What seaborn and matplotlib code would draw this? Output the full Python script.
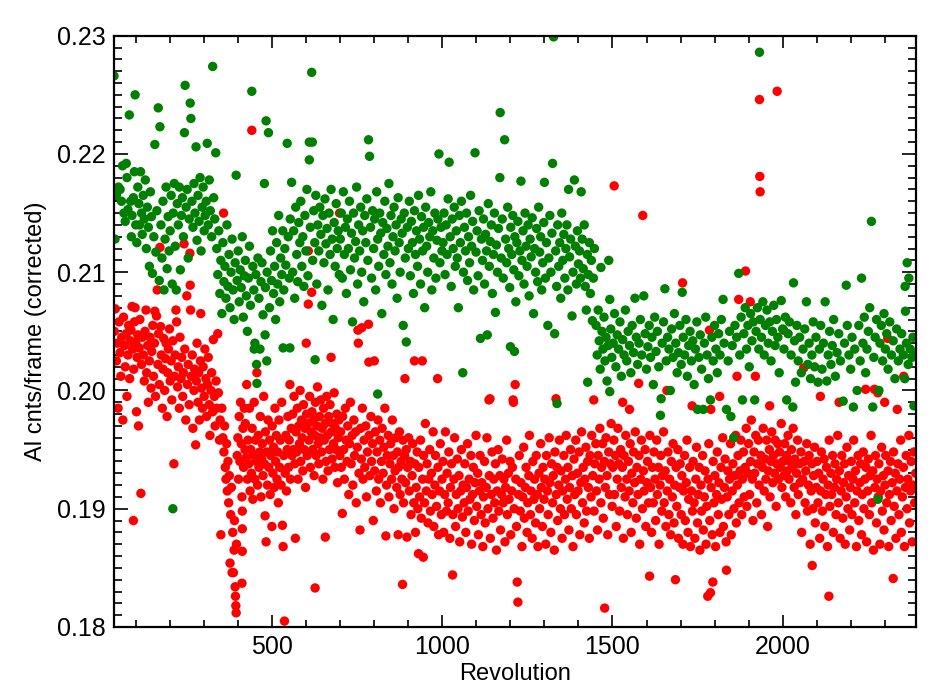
import pandas as pd
import numpy as np
import matplotlib
matplotlib.use('Agg')
import matplotlib.pyplot as plt
import seaborn as sns
from matplotlib.ticker import MultipleLocator, FormatStrFormatter

# RED BAND (revolution / rate)
red_points = [
    (36,.2050),(39,.2069),(42,.2025),(45,.2040),(47,.1985),(50,.2058),(53,.2032),(55,.2012),(58,.2045),(61,.1975),
    (63,.2062),(66,.2038),(68,.2020),(71,.2048),(73,.1995),(76,.2030),(78,.2055),(81,.2010),(83,.2042),(85,.2051),
    (88,.2071),(90,.2035),(92,.1890),(93,.2018),(95,.2058),(97,.2070),(99,.2041),(101,.1982),(103,.2028),(105,.2047),
    (107,.1970),(109,.2036),(111,.2060),(114,.1913),(116,.2022),(118,.2045),
    (121,.2030),(124,.2008),(126,.2050),(129,.2068),(131,.2015),(134,.2038),(136,.1990),(139,.2025),(141,.2045),(144,.2002),
    (146,.2033),(149,.2055),(151,.2012),(154,.2040),(155,.2067),(157,.1995),(160,.2063),(162,.2085),(164,.2022),(166,.2048),
    (168,.2005),(170,.2121),(172,.2054),(174,.2030),(177,.1985),(179,.2018),(181,.2044),(184,.2000),(186,.2027),(188,.2040),
    (191,.1978),(193,.2015),(195,.2035),(198,.2052),(200,.2008),(203,.2025),(205,.1992),(208,.2042),(211,.1938),(213,.2012),
    (215,.2030),(217,.2068),(219,.2058),(222,.2003),(224,.2020),(227,.1985),(229,.2045),(232,.2010),(234,.2028),(237,.1995),
    (239,.2015),(241,.2124),(243,.2035),(246,.1975),(249,.2080),(251,.2005),(253,.2022),(256,.1988),(258,.2116),(259,.2089),
    (260,.2068),(262,.2012),(265,.2030),(267,.1968),(270,.2000),(272,.2018),(275,.1954),(277,.2008),(279,.2040),(282,.1990),
    (284,.2015),(286,.1975),(289,.2025),(290,.2065),(292,.2002),(295,.1985),(297,.2020),(300,.1995),(302,.2035),(305,.2010),
    (307,.1978),(310,.2005),(312,.2028),(315,.1988),(317,.1962),(320,.2000),(322,.2015),(325,.1982),(327,.2043),(330,.1995),
    (332,.1970),(335,.2008),(337,.1985),(340,.2048),(342,.1998),(345,.1958),(347,.1975),(349,.1878),
    (352,.1985),(355,.1960),(357,.2150),(358,.1948),(360,.1970),(362,.1935),(364,.1925),(366,.1955),(368,.1915),(370,.1940),
    (372,.1905),(374,.1928),(376,.1854),(378,.1895),(380,.1918),(382,.1846),(384,.1880),(386,.1846),(388,.1865),(389,.1890),
    (391,.1834),(392,.1826),(393,.1818),(394,.1812),(395,.1870),(397,.1945),(399,.1960),(401,.1925),(403,.1978),(405,.1940),
    (407,.1990),(409,.1955),(411,.1837),(411,.1910),(412,.1864),(412,.1883),(412,.1898),(414,.1968),(416,.1935),(418,.1985),
    (420,.1950),
    (421,.1972),(423,.1943),(425,.2005),(427,.1925),(429,.1958),(431,.1938),(433,.1985),(435,.1915),(437,.1950),(439,.1930),
    (440,.2220),(441,.1968),(443,.1908),(445,.1945),(447,.1990),(449,.1925),(451,.1958),(453,.1940),(455,.2015),(457,.1920),
    (459,.1962),(461,.1935),(463,.1948),(465,.1978),(467,.1910),(469,.1942),(471,.1955),(473,.1928),(475,.1995),(477,.1938),
    (479,.1894),(480,.1965),(482,.1872),(484,.1948),(486,.1920),(488,.1975),(490,.1935),(492,.1958),(494,.1912),(496,.1945),
    (499,.1885),(500,.1970),(502,.1930),(504,.1952),(506,.1918),(508,.1985),(510,.1940),(512,.1962),(514,.1925),(516,.1948),
    (518,.1905),(520,.1975),(522,.1935),(524,.1958),(526,.1920),(528,.1990),(530,.1886),(532,.1868),(534,.1945),(536,.1805),
    (538,.1930),(540,.1962),(542,.1915),(544,.1950),(546,.1978),(548,.1935),(550,.1958),(552,.2005),(554,.1925),(556,.1968),
    (558,.1945),
    (560,.1980),(562,.1950),(564,.1995),(566,.1938),(568,.1875),(570,.1965),(572,.1948),(574,.1985),(576,.1925),(578,.1970),
    (580,.1955),(582,.2000),(584,.1940),(586,.1975),(588,.1960),(590,.1932),(592,.1988),(594,.1950),(596,.1968),(598,.1918),
    (600,.2040),(601,.1980),(603,.1945),(605,.1972),(606,.2118),(606,.2073),(608,.1958),(610,.1995),(612,.1935),(614,.1965),
    (616,.2083),(617,.1982),(619,.1950),(621,.1975),(623,.1928),(625,.1962),(626,.1833),(627,.1990),(629,.1945),(631,.1970),
    (633,.2003),(635,.1955),(637,.1938),(639,.1978),(641,.1960),(643,.1992),(645,.1948),(647,.1968),(649,.1925),(651,.1985),
    (653,.1958),(655,.1972),(656,.1876),(658,.1940),(660,.1995),(662,.1962),(664,.1932),(666,.1978),(668,.1950),(670,.1988),
    (673,.2028),(674,.1965),(676,.1942),(678,.1972),(680,.1955),(682,.1998),(684,.1935),(686,.1968),(688,.1950),(690,.1980),
    (692,.1922),(694,.1960),(696,.1975),(698,.2150),(699,.1945),
    (701,.1965),(703,.1935),(706,.1896),(707,.1978),(710,.1950),(712,.1925),(715,.1985),(717,.1958),(720,.1940),(722,.1970),
    (725,.1912),(727,.1955),(730,.1990),(732,.1938),(735,.1962),(737,.1920),(740,.1975),(742,.1945),(745,.1965),(747,.1905),
    (750,.1952),(752,.2051),(753,.2040),(755,.1930),(758,.1882),(760,.1968),(762,.1942),(763,.2053),(765,.1985),(767,.1925),
    (770,.1958),(772,.1935),(775,.1970),(777,.1910),(780,.1948),(783,.2056),(784,.2024),(785,.1962),(787,.1928),(790,.1978),
    (792,.1940),(795,.1955),(797,.1890),(800,.2025),(801,.1932),(803,.1965),(806,.1915),(808,.1948),(811,.1975),(813,.1925),
    (816,.1958),(818,.1905),(821,.1940),(823,.1968),(826,.1930),(828,.1952),(831,.1985),(834,.1877),(836,.1920),(838,.1945),
    (841,.1962),(843,.1910),(846,.1938),(848,.1955),(851,.1925),(853,.1975),(856,.1945),(858,.1900),(861,.1932),(863,.1960),
    (866,.1918),(868,.1948),(870,.1878),(871,.1935),(874,.1965),(876,.1912),(879,.1940),(881,.1925),(883,.1836),(884,.1958),
    (886,.1905),(889,.1945),(890,.2010),(892,.1922),(894,.1950),(896,.1876),(898,.1935),
    (901,.1960),(903,.1915),(906,.1940),(908,.1895),(911,.1928),(913,.1955),(916,.1905),(918,.2025),(919,.1938),(921,.1880),
    (923,.1918),(926,.1948),(928,.1900),(930,.1862),(931,.1935),(933,.1910),(936,.1958),(938,.1892),(941,.2025),(942,.1925),
    (944,.1859),(945,.1945),(948,.1905),(950,.1972),(953,.1915),(955,.1938),(958,.1888),(960,.1925),(963,.1950),(965,.1898),
    (968,.1930),(970,.1912),(973,.1965),(975,.1885),(978,.1920),(980,.1945),(983,.1902),(986,.2010),(987,.1935),(989,.1878),
    (992,.1915),(994,.1955),(997,.1895),(999,.1925),(1002,.1940),(1004,.1880),(1007,.1912),(1009,.1965),(1012,.1898),(1014,.1930),
    (1017,.1905),(1019,.1948),(1022,.1875),(1024,.1918),(1027,.1938),(1030,.1844),(1031,.1895),(1034,.1925),(1036,.1960),(1039,.1885),
    (1041,.1912),(1044,.1942),(1046,.1900),(1049,.1928),(1051,.1872),(1054,.1915),(1056,.1950),(1059,.1893),(1061,.1920),(1064,.1905),
    (1066,.1938),(1069,.1880),(1071,.1918),(1074,.1955),(1076,.1898),(1079,.1925),(1081,.1908),(1084,.1945),(1086,.1870),(1089,.1912),
    (1091,.1935),(1094,.1890),(1096,.1922),(1099,.1962),
    (1101,.1902),(1104,.1930),(1106,.1878),(1109,.1915),(1111,.1945),(1114,.1895),(1116,.1922),(1119,.1868),(1121,.1910),(1124,.1940),
    (1126,.1888),(1129,.1918),(1131,.1960),(1134,.1900),(1137,.1992),(1138,.1928),(1140,.1993),(1141,.1875),(1144,.1912),(1146,.1948),
    (1149,.1892),(1151,.1925),(1154,.1905),(1156,.1938),(1159,.1865),(1161,.1915),(1164,.1950),(1166,.1898),(1169,.1928),(1171,.1882),
    (1174,.1912),(1176,.1942),(1179,.1905),(1181,.1925),(1184,.1872),(1186,.1918),(1189,.1958),(1191,.1895),(1194,.1930),(1196,.1908),
    (1199,.1940),(1201,.1878),(1204,.1915),(1206,.1935),(1208,.1992),(1209,.1990),(1211,.1900),(1214,.2005),(1216,.1925),(1218,.1885),
    (1220,.1838),(1222,.1821),(1224,.1912),(1226,.1945),(1229,.1898),(1231,.1922),(1234,.1868),(1236,.1910),(1239,.1952),(1241,.1892),
    (1244,.1918),(1246,.1935),(1249,.1880),(1251,.1905),(1254,.1928),(1256,.1962),(1259,.1895),(1261,.1915),(1264,.1875),(1266,.1940),
    (1269,.1908),(1271,.1925),(1274,.1888),(1276,.1945),(1279,.1912),(1281,.1868),(1284,.1930),(1286,.1900),(1289,.1955),(1291,.1918),
    (1294,.1885),(1296,.1935),(1299,.1908),(1301,.1925),(1304,.1870),(1306,.1945),(1309,.1915),(1311,.1895),(1314,.1960),(1316,.1922),
    (1319,.1880),(1321,.1938),(1324,.1905),(1326,.1928),(1329,.1865),(1331,.1948),(1334,.1993),(1335,.1912),(1337,.1935),(1339,.1890),
    (1342,.1920),(1344,.1958),(1347,.1900),(1349,.1932),(1352,.1875),(1354,.1915),(1357,.1945),(1359,.1895),(1362,.1925),(1364,.1962),
    (1367,.1908),(1369,.1935),(1372,.1882),(1374,.1918),(1377,.1950),(1379,.1900),(1382,.1928),(1384,.1868),(1387,.1942),(1389,.1912),
    (1392,.1958),(1394,.1895),(1397,.1930),(1399,.1915),(1402,.1948),(1404,.1878),(1407,.1922),(1409,.1965),(1412,.1905),(1414,.1935),
    (1417,.1888),(1419,.1925),(1422,.1952),(1424,.1898),(1427,.1940),(1429,.1918),(1432,.1875),(1434,.1945),(1437,.1910),(1439,.1962),
    (1442,.1928),(1445,.1992),(1446,.1898),(1448,.1938),(1451,.1955),(1453,.1915),(1456,.1882),(1458,.1945),(1461,.1925),(1463,.1968),
    (1466,.1905),(1468,.1935),(1471,.1955),(1473,.1892),(1476,.1940),(1477,.1816),(1479,.1918),(1481,.1960),(1484,.1928),(1486,.1878),
    (1489,.1948),(1491,.1912),(1494,.1938),(1496,.1972),(1499,.1902),
    (1501,.1935),(1504,.1958),(1505,.2173),(1506,.1912),(1509,.1945),(1511,.1885),(1514,.1925),(1516,.1968),(1519,.1938),(1521,.1898),
    (1524,.1950),(1526,.1918),(1529,.1935),(1530,.1990),(1532,.1875),(1534,.1945),(1537,.1910),(1539,.1962),(1542,.1925),(1544,.1895),
    (1547,.1940),(1549,.1915),(1550,.1984),(1552,.1955),(1555,.1880),(1557,.1930),(1560,.1905),(1562,.1948),(1565,.1922),(1567,.1965),
    (1570,.1892),(1572,.1935),(1575,.1912),(1577,.2006),(1578,.1945),(1580,.1870),(1583,.1925),(1585,.1958),(1588,.1900),(1589,.2148),
    (1591,.1932),(1593,.1915),(1596,.1950),(1598,.1885),(1601,.1922),(1603,.1940),(1606,.1905),(1609,.1843),(1610,.1962),(1612,.1918),
    (1615,.1880),(1617,.1935),(1620,.1905),(1622,.1948),(1625,.1925),(1627,.1890),(1630,.1958),(1632,.1912),(1635,.1935),(1637,.1870),
    (1640,.1920),(1642,.1945),(1645,.1898),(1647,.1928),(1650,.1965),(1652,.1905),(1655,.1932),(1657,.1885),(1660,.2000),(1661,.1915),
    (1663,.1948),(1666,.1895),(1668,.1925),(1671,.1878),(1673,.1940),(1676,.1910),(1678,.1955),(1681,.1888),(1683,.1920),(1685,.1840),
    (1687,.1935),(1689,.1902),(1692,.1950),(1694,.1875),(1697,.1918),(1699,.1938),
    (1702,.1895),(1704,.1928),(1706,.2091),(1707,.1870),(1709,.1915),(1712,.1945),(1714,.1890),(1717,.1922),(1719,.1958),(1722,.1880),
    (1724,.1908),(1727,.1935),(1729,.1868),(1732,.1915),(1734,.1987),(1735,.1898),(1737,.1940),(1740,.1905),(1742,.1875),(1745,.1925),
    (1747,.1952),(1750,.1888),(1752,.1912),(1755,.1935),(1757,.1865),(1760,.1920),(1762,.1898),(1765,.1945),(1767,.1882),(1770,.1910),
    (1772,.1932),(1775,.1870),(1777,.1902),(1780,.1826),(1781,.1925),(1783,.1955),(1785,.2051),(1786,.1890),(1788,.1829),(1789,.1984),
    (1790,.1918),(1793,.1878),(1795,.1838),(1796,.1940),(1798,.1905),(1801,.1928),(1803,.1868),(1806,.1912),(1808,.1948),(1811,.1895),
    (1813,.1922),(1815,.1995),(1816,.1880),(1819,.1935),(1821,.1908),(1824,.1960),(1826,.1885),(1829,.1918),(1831,.1942),(1834,.1872),
    (1835,.1848),(1837,.1910),(1839,.1932),(1842,.1895),(1844,.1925),(1847,.1955),(1849,.1878),(1852,.1915),(1854,.1938),(1857,.1900),
    (1859,.1928),(1862,.1962),(1864,.1888),(1866,.2012),(1867,.1920),(1869,.1945),(1871,.2077),(1872,.1905),(1875,.1932),(1877,.1958),
    (1880,.1895),(1882,.1925),(1885,.1948),(1887,.1910),(1890,.1935),(1891,.2101),(1893,.1968),(1895,.1902),(1898,.1930),
    (1900,.1955),(1903,.1912),(1905,.2075),(1906,.1940),(1908,.1975),(1911,.1925),(1913,.1890),(1916,.1948),(1918,.1930),(1920,.2012),
    (1921,.1962),(1924,.1905),(1926,.1938),(1929,.1958),(1931,.1920),(1932,.2246),(1933,.2181),(1934,.2168),(1936,.1945),(1938,.1895),
    (1941,.1935),(1943,.1968),(1946,.1915),(1948,.1942),(1951,.1925),(1953,.1958),(1956,.1885),(1958,.1932),(1961,.1950),(1962,.1987),
    (1963,.1910),(1966,.1940),(1968,.1965),(1971,.1922),(1973,.1945),(1976,.1930),(1978,.1958),(1981,.1902),(1983,.1938),(1984,.2253),
    (1986,.1955),(1988,.1925),(1991,.1948),(1993,.1935),(1996,.1972),(1998,.1918),(2001,.1940),(2003,.2051),(2004,.1928),(2006,.1955),
    (2009,.1910),(2011,.1945),(2014,.1932),(2016,.1962),(2019,.1925),(2021,.1940),(2024,.1905),(2026,.1950),(2029,.1935),(2031,.1968),
    (2034,.1918),(2036,.1942),(2039,.1895),(2041,.1930),(2044,.1958),(2046,.1912),(2049,.1938),(2051,.1922),(2054,.1948),(2056,.1880),
    (2059,.1925),(2062,.2019),(2063,.1940),(2066,.1905),(2068,.1932),(2071,.1955),(2073,.1898),(2076,.1920),(2078,.1945),(2081,.1870),
    (2084,.1915),(2086,.1938),(2087,.1852),(2089,.1900),(2091,.1928),(2094,.1952),(2096,.1888),(2099,.1918),
    (2101,.1940),(2104,.1905),(2106,.1930),(2109,.1875),(2111,.1995),(2112,.1915),(2114,.1948),(2117,.1898),(2119,.1925),(2122,.1942),
    (2124,.1885),(2127,.1912),(2129,.1935),(2132,.1868),(2134,.1920),(2136,.1826),(2137,.1958),(2139,.1902),(2142,.1930),(2144,.1912),
    (2147,.1945),(2149,.1880),(2152,.1918),(2154,.1938),(2157,.1895),(2159,.1925),(2162,.1962),(2164,.1905),(2166,.1990),(2167,.1932),
    (2169,.1875),(2172,.1915),(2174,.1945),(2177,.1892),(2179,.1922),(2182,.1938),(2184,.1870),(2187,.1910),(2189,.1952),(2192,.1900),
    (2194,.1928),(2197,.1882),(2199,.1918),(2202,.1940),(2204,.1895),(2207,.1925),(2209,.1958),(2212,.1905),(2214,.1932),(2217,.1868),
    (2219,.1915),(2222,.1945),(2224,.1890),(2227,.1922),(2229,.1938),(2232,.1878),(2234,.1912),(2237,.1948),(2239,.1900),(2242,.1925),
    (2244,.2001),(2245,.1935),(2247,.1872),(2250,.1915),(2252,.1942),(2255,.1895),(2257,.1928),(2260,.1962),(2262,.1905),(2265,.1932),
    (2267,.1865),(2270,.2001),(2271,.1918),(2273,.1945),(2276,.1888),(2278,.1925),(2280,.1998),(2281,.1910),(2283,.1938),(2286,.1870),
    (2288,.1915),(2291,.1952),(2293,.1898),(2296,.1928),(2298,.1882),(2300,.1990),(2301,.1920),(2303,.1945),(2306,.1905),(2309,.2044),
    (2310,.1932),(2312,.1868),(2314,.1912),(2317,.1940),(2319,.1890),(2322,.1922),(2325,.1841),(2326,.1948),(2328,.1902),(2331,.1930),
    (2333,.1875),(2336,.1915),(2337,.1984),(2339,.1938),(2342,.1895),(2344,.1925),(2347,.1958),(2349,.1880),(2352,.1910),(2355,.1935),
    (2356,.2012),(2358,.1868),(2361,.1918),(2363,.1945),(2366,.1900),(2368,.1925),(2371,.1962),(2373,.1888),(2376,.1915),(2378,.1940),
    (2381,.1872),(2383,.1920),(2386,.1948),(2388,.1905),(2391,.1930),
]

# GREEN BAND
green_points = [
    (35,.2266),(38,.2128),(42,.2165),(48,.2172),(53,.2170),(57,.2160),(60,.2190),(64,.2150),(68,.2143),(71,.2192),
    (73,.2180),(76,.2153),(80,.2233),(84,.2160),(86,.2130),(88,.2148),(92,.2163),(95,.2185),(97,.2250),(99,.2140),
    (102,.2125),(105,.2172),(108,.2158),(110,.2140),(113,.2185),(116,.2150),(118,.2132),(121,.2165),(124,.2145),(127,.2178),
    (130,.2120),(133,.2155),(136,.2138),(139,.2105),(142,.2168),(145,.2147),(148,.2099),(152,.2130),(155,.2208),(158,.2117),
    (161,.2152),(165,.2239),(168,.2093),(170,.2223),(173,.2140),(176,.2112),(179,.2160),(182,.2085),(185,.2128),(188,.2172),
    (191,.2103),(194,.2147),(197,.2118),(208,.1900),
    (200,.2135),(203,.2165),(206,.2090),(209,.2150),(212,.2175),(215,.2122),(218,.2085),(221,.2158),(224,.2140),(227,.2172),
    (230,.2102),(233,.2148),(236,.2163),(239,.2130),(242,.2218),(244,.2258),(247,.2155),(250,.2170),(253,.2112),(256,.2145),
    (259,.2243),(261,.2230),(264,.2160),(267,.2138),(270,.2175),(273,.2150),(276,.2206),(279,.2127),(282,.2165),(285,.2143),
    (288,.2180),(291,.2118),(294,.2155),(297,.2172),(300,.2135),(303,.2148),(306,.2160),(309,.2209),(312,.2140),(315,.2178),
    (318,.2152),(322,.2130),(325,.2274),(328,.2163),(331,.2145),(334,.2201),
    (337,.2120),(340,.2098),(343,.2135),(346,.2082),(349,.2110),(352,.2065),(355,.2125),(358,.2092),(361,.2105),(364,.2078),
    (367,.2140),(370,.2088),(373,.2115),(376,.2070),(379,.2100),(382,.2128),(385,.2085),(388,.2060),(391,.2108),(394,.2182),
    (397,.2093),(400,.2118),(403,.2075),(406,.2102),(409,.2087),(412,.2130),(415,.2062),(418,.2097),(421,.2110),(424,.2080),
    (427,.2050),(430,.2095),(433,.2122),(436,.2072),(440,.2253),(443,.2105),(446,.2085),(447,.2035),(449,.2040),(452,.2098),
    (454,.2022),(455,.2006),(458,.2112),(461,.2078),(464,.2035),(467,.2092),(470,.2108),(473,.2064),(477,.2175),(479,.2047),
    (480,.2087),(482,.2228),(484,.2025),(485,.2100),(489,.2218),(492,.2070),(495,.2118),(498,.2093),(501,.2135),(504,.2082),
    (507,.2105),(510,.2060),(513,.2125),(516,.2090),(519,.2148),(522,.2075),(525,.2112),(528,.2098),(531,.2135),(532,.2036),
    (534,.2085),(537,.2120),(540,.2106),(544,.2209),(547,.2130),(550,.2095),(552,.2036),(553,.2145),(557,.2176),
    (560,.2100),(563,.2135),(566,.2078),(569,.2155),(572,.2115),(575,.2092),(578,.2142),(581,.2125),(584,.2160),(587,.2105),
    (590,.2130),(593,.2088),(596,.2148),(599,.2118),(602,.2170),(605,.2097),(609,.2195),(609,.2210),(612,.2138),(616,.2269),
    (618,.2210),(619,.2110),(622,.2152),(625,.2125),(626,.2026),(628,.2165),(631,.2090),(634,.2140),(637,.2118),(640,.2155),
    (643,.2132),(646,.2072),(649,.2148),(652,.2108),(655,.2162),(658,.2124),(661,.2137),(664,.2085),(667,.2150),(670,.2115),
    (673,.2170),(676,.2128),(679,.2060),(682,.2142),(685,.2105),(688,.2158),(691,.2120),(694,.2135),(697,.2098),
    (700,.2128),(703,.2150),(706,.2095),(709,.2168),(712,.2115),(715,.2138),(718,.2082),(721,.2145),(724,.2120),(727,.2160),
    (730,.2102),(733,.2133),(736,.2058),(739,.2150),(742,.2112),(745,.2126),(748,.2172),(751,.2090),(754,.2140),(757,.2118),
    (760,.2155),(763,.2100),(766,.2135),(769,.2075),(772,.2148),(775,.2125),(778,.2162),(781,.2110),(783,.2212),(786,.2198),
    (789,.2138),(792,.2095),(795,.2152),(798,.2120),(801,.2145),(804,.2085),(807,.2168),(810,.2128),(810,.1997),(813,.2105),
    (816,.2150),(819,.2133),(822,.2065),(825,.2142),(828,.2115),(831,.2160),(834,.2098),(837,.2137),(840,.2122),(843,.2175),
    (846,.2108),(849,.2148),(852,.2090),(855,.2130),(858,.2155),(861,.2118),(864,.2140),(867,.2078),(870,.2163),(873,.2125),
    (876,.2100),(879,.2145),(882,.2133),(885,.2055),(888,.2150),(891,.2112),(894,.2041),(897,.2138),(900,.2120),(903,.2160),
    (906,.2097),(909,.2143),(912,.2125),(915,.2082),(918,.2152),(921,.2115),(924,.2135),(927,.2105),(930,.2165),(933,.2128),
    (936,.2090),(939,.2147),(942,.2118),(945,.2138),(948,.2070),(951,.2155),(954,.2122),(957,.2100),(960,.2142),(963,.2130),
    (966,.2168),(969,.2085),(972,.2135),(975,.2112),(978,.2150),(981,.2095),(984,.2127),(987,.2145),(990,.2200),(993,.2108),
    (996,.2138),(999,.2118),
    (1002,.2125),(1005,.2150),(1008,.2098),(1011,.2140),(1014,.2115),(1017,.2162),(1020,.2193),(1023,.2130),(1026,.2088),(1029,.2145),
    (1032,.2120),(1035,.2155),(1038,.2105),(1041,.2135),(1044,.2112),(1047,.2070),(1050,.2148),(1053,.2125),(1056,.2160),(1060,.2015),
    (1062,.2100),(1065,.2138),(1068,.2118),(1071,.2150),(1074,.2093),(1077,.2130),(1080,.2108),(1083,.2165),(1086,.2122),(1089,.2143),
    (1092,.2085),(1096,.2201),(1099,.2117),(1102,.2135),(1105,.2097),(1108,.2152),(1112,.2044),(1115,.2128),(1118,.2110),(1121,.2145),
    (1124,.2090),(1127,.2132),(1130,.2118),(1132,.2047),(1135,.2158),(1138,.2105),(1141,.2126),(1144,.2140),(1147,.2082),(1150,.2115),
    (1153,.2150),(1156,.2066),(1159,.2123),(1162,.2100),(1165,.2137),(1169,.2180),(1170,.2235),(1173,.2112),(1176,.2145),(1179,.2095),
    (1183,.2212),(1186,.2128),(1189,.2108),(1192,.2155),(1195,.2120),(1198,.2087),(1200,.2037),(1201,.2138),(1204,.2115),(1207,.2148),
    (1210,.2102),(1212,.2033),(1213,.2130),(1216,.2075),(1219,.2125),(1222,.2143),(1225,.2097),(1228,.2118),(1231,.2177),(1234,.2110),
    (1237,.2135),(1240,.2090),(1243,.2150),(1246,.2122),(1249,.2105),(1252,.2140),(1255,.2080),(1258,.2128),(1261,.2113),(1264,.2146),
    (1268,.2065),(1271,.2120),(1274,.2100),(1277,.2137),(1280,.2092),(1283,.2155),(1286,.2117),(1289,.2130),(1292,.2085),(1295,.2108),
    (1298,.2142),(1300,.2176),(1303,.2095),(1306,.2125),(1310,.2055),(1313,.2112),(1316,.2148),(1319,.2100),(1322,.2133),(1324,.2192),
    (1327,.2299),(1330,.2048),(1333,.2118),(1336,.2088),(1337,.1989),(1339,.2140),(1342,.2105),(1345,.2125),(1348,.2078),(1351,.2150),
    (1354,.2110),(1357,.2132),(1360,.2095),(1363,.2120),(1366,.2140),(1369,.2085),(1371,.2170),(1374,.2113),(1377,.2128),(1381,.2063),
    (1384,.2100),(1388,.2178),(1391,.2122),(1394,.2090),(1397,.2135),(1400,.2107),(1403,.2118),(1406,.2095),(1408,.2168),(1411,.2128),
    (1414,.2103),(1417,.2140),(1420,.2088),(1423,.2068),(1426,.2115),(1427,.2007),(1429,.2098),(1432,.2125),(1435,.2082),(1438,.2110),
    (1441,.2059),(1444,.2095),(1447,.2120),(1466,.2104),(1489,.2110),
    (1452,.2055),(1455,.2030),(1458,.2068),(1461,.2042),(1464,.2018),(1469,.2050),(1472,.2035),(1475,.2062),(1478,.2025),(1481,.2045),
    (1484,.2008),(1487,.2038),(1492,.1999),(1492,.2077),(1495,.2052),(1498,.2028),(1502,.2040),(1506,.2065),(1510,.2020),(1514,.2047),
    (1518,.2035),(1522,.2058),(1526,.2012),(1530,.2043),(1534,.2030),(1538,.2068),(1542,.2025),(1546,.2050),(1550,.2038),(1554,.2015),
    (1558,.2055),(1562,.2032),(1566,.2078),(1570,.2045),(1574,.2022),(1578,.2040),(1582,.2060),(1586,.2030),(1592,.2080),(1596,.2048),
    (1600,.2018),(1604,.2037),(1608,.2055),(1612,.2028),(1616,.2045),(1620,.2005),(1624,.2062),(1628,.2033),(1632,.2050),(1636,.2020),
    (1641,.1979),(1643,.1993),(1646,.2040),(1650,.2058),(1654,.2086),(1658,.2025),(1662,.2045),(1666,.2035),(1670,.2000),(1674,.2052),
    (1678,.2028),(1682,.2065),(1686,.2040),(1690,.2015),(1694,.2032),(1698,.2055),(1702,.2022),(1705,.2083),(1708,.2045),(1712,.2030),
    (1716,.2060),(1720,.2012),(1724,.2038),(1728,.2050),(1732,.2025),(1736,.2042),(1740,.2005),(1744,.2035),(1748,.2058),(1750,.1984),
    (1754,.2028),(1758,.2047),(1762,.2018),(1767,.1984),(1770,.2040),(1774,.2062),(1778,.2030),(1782,.2010),(1788,.1992),(1792,.2045),
    (1796,.2025),(1800,.2055),(1804,.2035),(1808,.2015),(1812,.2048),(1816,.2030),(1820,.2060),(1825,.2077),(1828,.2040),(1835,.1984),
    (1840,.2025),(1844,.2050),(1848,.1978),(1852,.2038),(1856,.1960),(1860,.2055),(1865,.2045),(1871,.2099),(1874,.2030),(1878,.2062),
    (1882,.1992),(1886,.2048),(1890,.2070),(1894,.2035),(1898,.2055),(1902,.2020),(1906,.2065),(1910,.2042),(1914,.2058),(1918,.1992),
    (1922,.2050),(1926,.2070),(1930,.2035),(1932,.2286),(1934,.2060),(1938,.2045),(1942,.2075),(1946,.2030),(1950,.2055),(1954,.2068),
    (1958,.2040),(1962,.2058),(1966,.2025),(1970,.2050),(1974,.2072),(1978,.2038),(1982,.2060),(1986,.2045),(1990,.2015),(1996,.2076),
    (2000,.2052),(2004,.2035),(2008,.2062),(2012,.1992),(2016,.2048),(2020,.2058),(2025,.2030),(2030,.1986),(2032,.2091),(2035,.2042),
    (2038,.2007),(2042,.2055),(2046,.2025),(2050,.2045),(2055,.2015),(2060,.2035),(2065,.2052),(2070,.2075),(2074,.2022),(2078,.2040),
    (2082,.2010),(2086,.2030),(2090,.2058),(2094,.2020),(2098,.2045),(2104,.2007),(2108,.2035),(2112,.2055),(2116,.2018),(2120,.2040),
    (2125,.2075),(2130,.2008),(2134,.2030),(2138,.2050),(2142,.2022),(2146,.2038),(2150,.2060),(2155,.2012),(2160,.2032),(2165,.2048),
    (2170,.2025),(2178,.1991),(2182,.2040),(2187,.2089),(2190,.2055),(2195,.2030),(2200,.2018),(2204,.2045),(2208,.1986),(2212,.2035),
    (2219,.2000),(2224,.2055),(2228,.2025),(2232,.2095),(2236,.2040),(2240,.2062),(2244,.2015),(2248,.2035),(2252,.2050),(2256,.2070),
    (2261,.2143),(2265,.1986),(2268,.2028),(2272,.2045),(2276,.2060),(2280,.1908),(2283,.2000),(2286,.2040),(2290,.2055),(2294,.2025),
    (2298,.2065),(2302,.2035),(2306,.2048),(2310,.2018),(2315,.2058),(2320,.2030),(2325,.2042),(2330,.2010),(2335,.2052),(2340,.2025),
    (2345,.2035),(2350,.2048),(2355,.2030),(2359,.2010),(2360,.2088),(2361,.2067),(2364,.2040),(2366,.2108),(2369,.2022),(2371,.2095),
    (2375,.2035),(2380,.2028),(2383,.2045),(2386,.1987),(2389,.2030),
]

x_ticks = [500, 1000, 1500, 2000]
y_ticks = [0.18, 0.19, 0.20, 0.21, 0.22, 0.23]

# MONTANDO O DATAFRAME (vermelho primeiro, verde por cima)
df_red = pd.DataFrame(red_points, columns=['rev', 'rate'])
df_red['band'] = 'red'
df_green = pd.DataFrame(green_points, columns=['rev', 'rate'])
df_green['band'] = 'green'
df = pd.concat([df_red, df_green], ignore_index=True)

sns.set_style('ticks')
plt.rcParams['font.family'] = ['Liberation Sans', 'DejaVu Sans']
plt.rcParams['text.color'] = 'black'
plt.rcParams['axes.labelcolor'] = 'black'

fig = plt.figure(figsize=(9.5, 7), dpi=100)
ax = fig.add_axes([0.12, 0.1043, 0.8442, 0.8447])

sns.scatterplot(data=df, x='rev', y='rate', hue='band',
                palette={'red': '#ff0000', 'green': '#007f00'},
                s=46, linewidth=0, edgecolor='none', legend=False, ax=ax)

ax.set_xlim(35, 2392)
ax.set_ylim(0.18, 0.23)
ax.set_xticks(x_ticks)
ax.set_yticks(y_ticks)
ax.xaxis.set_minor_locator(MultipleLocator(100))
ax.yaxis.set_minor_locator(MultipleLocator(0.001))
ax.yaxis.set_major_formatter(FormatStrFormatter('%.2f'))

for s in ax.spines.values():
    s.set_linewidth(1.6)
    s.set_color('black')

ax.tick_params(axis='both', which='both', direction='in', top=True, right=True,
               color='black', width=1.2, labelsize=18, labelcolor='black')
ax.tick_params(axis='x', which='major', length=8.4, pad=6)
ax.tick_params(axis='x', which='minor', length=4.8)
ax.tick_params(axis='y', which='major', length=10, pad=6)
ax.tick_params(axis='y', which='minor', length=5.5)

ax.set_xlabel('Revolution', fontsize=17, labelpad=3, color='black')
ax.set_ylabel('Al cnts/frame (corrected)', fontsize=17, labelpad=7, color='black')

plt.savefig('out.png', dpi=100)
